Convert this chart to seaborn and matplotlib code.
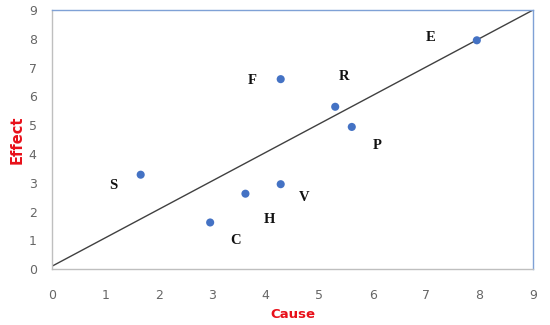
import numpy as np
import pandas as pd
import seaborn as sns
import matplotlib
matplotlib.use("Agg")
import matplotlib.pyplot as plt

# data
labels = ["E", "F", "R", "P", "S", "H", "V", "C"]
cause = [7.95, 4.28, 5.3, 5.61, 1.66, 3.62, 4.28, 2.96]
effect = [7.95, 6.6, 5.64, 4.94, 3.28, 2.62, 2.95, 1.62]
# where each letter sits
label_x = [7.08, 3.75, 5.47, 6.09, 1.14, 4.06, 4.72, 3.43]
label_y = [8.06, 6.56, 6.70, 4.31, 2.92, 1.74, 2.50, 1.01]
ticks = list(range(10))

df = pd.DataFrame({"Cause": cause, "Effect": effect, "label": labels})

sns.set_style("white")
fig = plt.figure(figsize=(5.5, 3.25), dpi=100)
ax = fig.add_axes([0.0945, 0.172, 0.8745, 0.797])

# reference diagonal
ax.plot([0, 9], [0.1, 9], color="#404040", linewidth=1.0, zorder=1)

sns.scatterplot(data=df, x="Cause", y="Effect", ax=ax, color="#4472C4",
                s=34, edgecolor="none", zorder=3)

for lx, ly, t in zip(label_x, label_y, labels):
    ax.text(lx, ly, t, fontsize=10.5, fontweight="bold", family="Liberation Serif",
            ha="center", va="center", color="#111111")

ax.set_xlim(0, 9)
ax.set_ylim(0, 9)
ax.set_xticks(ticks)
ax.set_yticks(ticks)
ax.tick_params(axis="both", length=0, labelsize=9, labelcolor="#666666")
ax.tick_params(axis="x", pad=14)
ax.tick_params(axis="y", pad=11)

for side in ["left", "bottom"]:
    ax.spines[side].set_color("#BFBFBF")
    ax.spines[side].set_linewidth(1.0)
for side in ["top", "right"]:
    ax.spines[side].set_color("#7FA1D6")
    ax.spines[side].set_linewidth(1.0)

ax.set_xlabel("Cause", color="#E8101A", fontweight="bold", fontsize=9.5, labelpad=5)
ax.set_ylabel("Effect", color="#E8101A", fontweight="bold", fontsize=10.5, labelpad=3)

fig.savefig("out.png", dpi=100)
